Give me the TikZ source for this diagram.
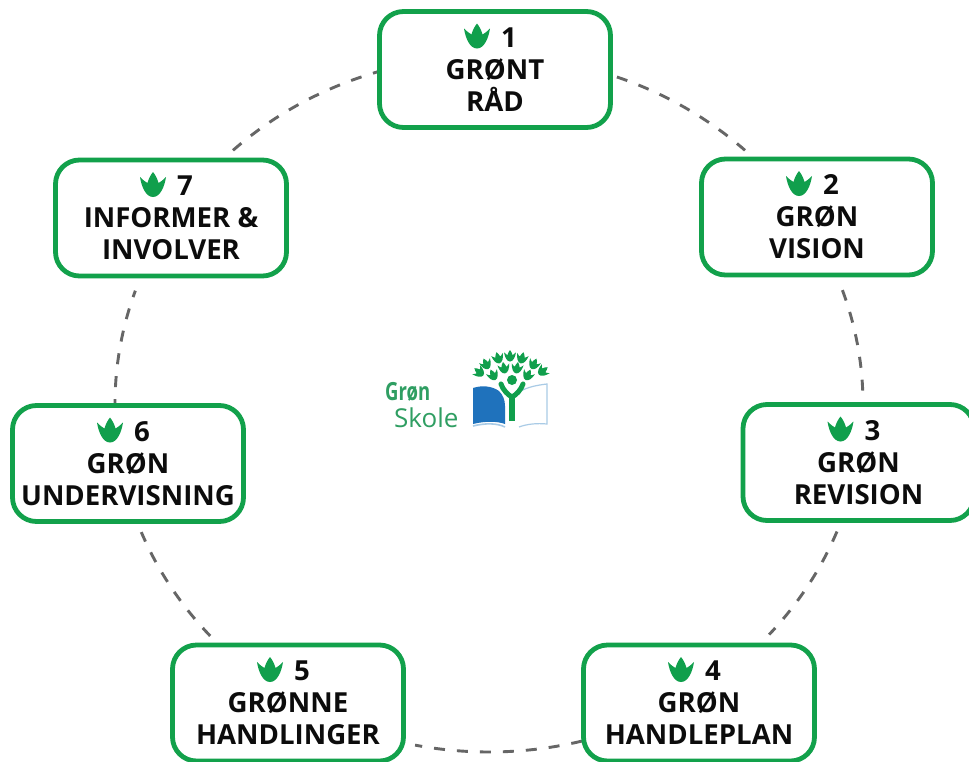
\documentclass[tikz,border=0pt]{standalone}
\usepackage{fontspec}
\setmainfont{Open Sans}
\usetikzlibrary{calc}
\definecolor{boxgreen}{HTML}{12A14B}
\definecolor{leafgreen}{HTML}{109F4C}
\definecolor{logogreen}{HTML}{2F9E62}
\definecolor{dashgray}{HTML}{666666}
\definecolor{inkblack}{HTML}{0C0C0C}
\definecolor{pageblue}{HTML}{1F72BC}
\definecolor{edgeblue}{HTML}{A9CBE6}
\tikzset{
  x=1pt,y=-1pt,
  stepbox/.style={draw=boxgreen,line width=4.8pt,rounded corners=24pt,fill=white,
    minimum width=231pt,minimum height=116pt,inner sep=0pt,align=center,
    text=inkblack,font=\fontsize{27.6}{32}\selectfont\bfseries},
  linkline/.style={draw=dashgray,line width=2.9pt,dash pattern=on 11pt off 12pt},
  leafmark/.pic={
    \fill[leafgreen] (-13,-8) .. controls (-10,-5) and (-7.5,-3) .. (-5.5,-2)
      .. controls (-4.5,-6) and (-2.5,-10) .. (0,-13)
      .. controls (2.5,-10) and (4.5,-6) .. (5.5,-2)
      .. controls (7.5,-3) and (10,-5) .. (13,-8)
      .. controls (11.5,2) and (7,12) .. (0,12)
      .. controls (-7,12) and (-11.5,2) .. (-13,-8) -- cycle;
  },
}
\newcommand\stepnode[5]{%
  \node[stepbox] (#1) at (#2) {\hspace*{28pt}#3\\#4\\#5};
  \pic at ($(#1.center)+(-18,-33)$) {leafmark};
}
\newcommand\linkarc[4]{%
  \pgfmathsetmacro\kk{4/3*tan((#4-(#3))/4)}
  \coordinate (#1) at ($(o)+(#3:374 and 348)$);
  \coordinate (#2) at ($(o)+(#4:374 and 348)$);
  \draw[linkline] (#1) .. controls ($(#1)+\kk*(#3+90:374 and 348)$)
     and ($(#2)-\kk*(#4+90:374 and 348)$) .. (#2);
}
\newcommand\treeleaf[3]{\pic[scale=.46,rotate=#3] at (#1,#2) {leafmark};}
\begin{document}
\begin{tikzpicture}
\clip (0,0) rectangle (969,761);
\fill[white] (0,0) rectangle (969,761);
\coordinate (o) at (489,404);
% dashed ring
\linkarc{e12a}{e12b}{-70}{-46.8}
\linkarc{e23a}{e23b}{-19.1}{-0.7}
\linkarc{e34a}{e34b}{21.5}{41.5}
\linkarc{e45a}{e45b}{75.6}{101.4}
\linkarc{e56a}{e56b}{138.2}{158.4}
\linkarc{e67a}{e67b}{179}{199}
\linkarc{e71a}{e71b}{226.8}{252.7}
% steps
\stepnode{n1}{495,69.5}{1}{GRØNT}{RÅD}
\stepnode{n2}{817,217}{2}{GRØN}{VISION}
\stepnode{n3}{858.5,462.5}{3}{GRØN}{REVISION}
\stepnode{n4}{699,703}{4}{GRØN}{HANDLEPLAN}
\stepnode{n5}{288,703}{5}{GRØNNE}{HANDLINGER}
\stepnode{n6}{128,463.5}{6}{GRØN}{UNDERVISNING}
\stepnode{n7}{171,218}{7}{INFORMER \&}{INVOLVER}
% logo
\fill[pageblue] (473,388) .. controls (482,385) and (492,386) .. (499,391)
  .. controls (503,395) and (505,400) .. (505,406) -- (505,424)
  .. controls (497,421) and (485,421) .. (473,424) -- cycle;
\fill[white] (519,392) .. controls (527,387) and (538,385) .. (547,384) -- (547,424)
  .. controls (537,423) and (527,424) .. (519,427) -- cycle;
\draw[edgeblue,line width=1.2pt] (519,392) .. controls (527,387) and (538,385) .. (547,384) -- (547,424)
  .. controls (537,423) and (527,424) .. (519,427);
\draw[edgeblue,line width=1.6pt] (473,426) .. controls (485,423) and (497,423) .. (505,427);
\draw[leafgreen,line width=6pt] (512,421) -- (512,397);
\draw[leafgreen,line width=5pt,line cap=round] (501,384) .. controls (503,390) and (508,395) .. (512,397)
  .. controls (516,395) and (521,390) .. (523,384);
\fill[leafgreen] (512,380) circle[radius=5];
\treeleaf{510}{356}{0}
\treeleaf{498}{358}{15}
\treeleaf{522}{358}{-15}
\treeleaf{486}{364}{25}
\treeleaf{534}{364}{-25}
\treeleaf{479}{372}{50}
\treeleaf{543}{371}{-50}
\treeleaf{504}{368}{10}
\treeleaf{517}{368}{-10}
\treeleaf{493}{375}{25}
\treeleaf{528}{375}{-25}
\node[text=logogreen,font=\fontsize{25}{25}\selectfont\bfseries,xscale=.74,anchor=base west,inner sep=0pt] (grn) at (385,400) {Grøn};
\node[text=logogreen,font=\fontsize{26}{26}\selectfont,anchor=base west,inner sep=0pt] (skl) at (394,427) {Skole};
\end{tikzpicture}
\end{document}
